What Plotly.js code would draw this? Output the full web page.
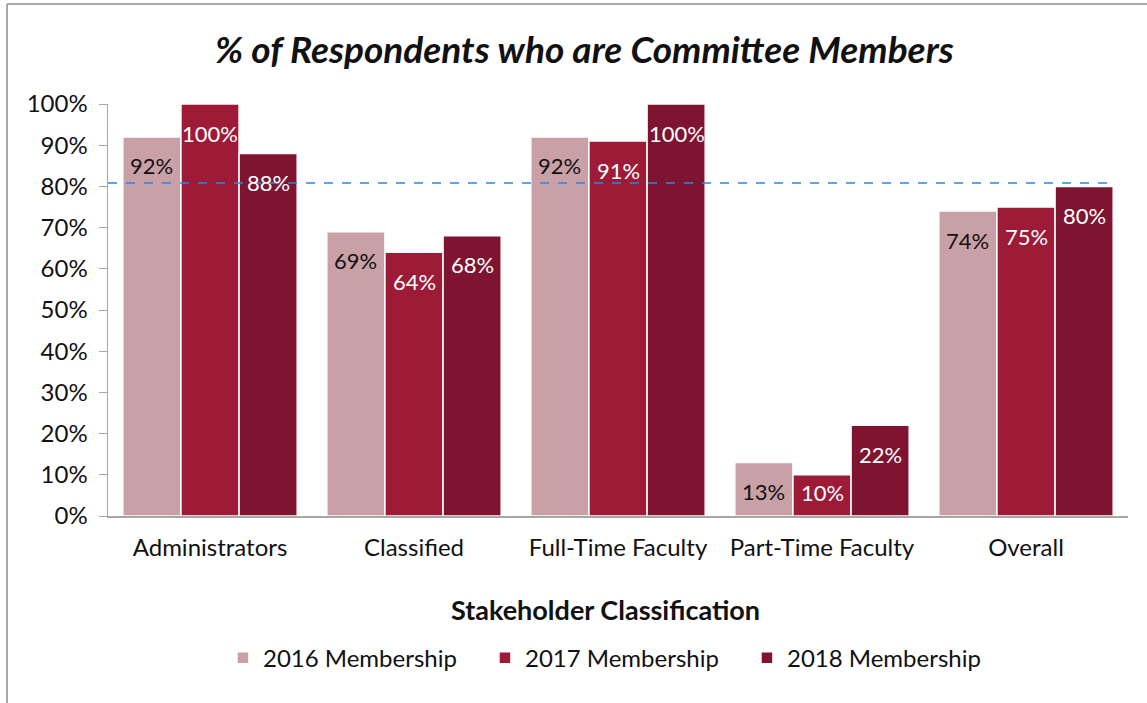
<!DOCTYPE html>
<html><head><meta charset="utf-8">
<script src="https://cdn.plot.ly/plotly-3.0.1.min.js"></script>
<style>html,body{margin:0;padding:0;background:#fff}#chart{width:1147px;height:703px}</style>
</head><body><div id="chart"></div>
<script>
const categories = ["Administrators", "Classified", "Full-Time Faculty", "Part-Time Faculty", "Overall"];
const seriesNames = ["2016 Membership", "2017 Membership", "2018 Membership"];
const values2016 = [92, 69, 92, 13, 74];
const values2017 = [100, 64, 91, 10, 75];
const values2018 = [88, 68, 100, 22, 80];
const benchmark = 80.8;
const yTicks = [0, 10, 20, 30, 40, 50, 60, 70, 80, 90, 100];

const colors = ["#C9A0A6", "#9E1B37", "#7E1430"];
const labelColors = ["#111111", "#ffffff", "#ffffff"];
const allValues = [values2016, values2017, values2018];
const FONT = "Lato, 'Open Sans', sans-serif";

const W = 1147, H = 703;
const M = {l: 108, r: 19, t: 104, b: 187};
const plotH = H - M.t - M.b;

const traces = allValues.map((vals, i) => ({
  type: "bar", name: seriesNames[i], x: categories, y: vals,
  marker: {color: colors[i], line: {color: "#ffffff", width: 1.5}},
  hoverinfo: "skip"
}));

const annotations = [];
allValues.forEach((vals, i) => {
  vals.forEach((v, j) => {
    const barPx = v / 100 * plotH;
    annotations.push({
      x: categories[j], y: v, xref: "x", yref: "y",
      text: v + "%", showarrow: false, xshift: (i - 1) * 58.5,
      yshift: -Math.min(29, barPx - 24),
      font: {family: FONT, size: 22, color: labelColors[i]}
    });
  });
});

annotations.push({
  text: "<b>Stakeholder Classification</b>", xref: "paper", yref: "paper",
  x: 0.488, y: -0.228, xanchor: "center", yanchor: "middle", showarrow: false,
  font: {family: FONT, size: 27, color: "#111"}
});

const layout = {
  width: W, height: H,
  margin: M,
  paper_bgcolor: "#ffffff", plot_bgcolor: "#ffffff",
  barmode: "group", bargap: 0.145, bargroupgap: 0,
  showlegend: true,
  title: {text: "<b><i>% of Respondents who are Committee Members</i></b>",
    font: {family: FONT, size: 37, color: "#111"},
    x: 0.467, xanchor: "center", y: 0.929, yanchor: "middle", xref: "paper", yref: "container"},
  xaxis: {
    showline: true, linecolor: "#a6a6a6", linewidth: 1.5, ticks: "", showgrid: false,
    tickfont: {family: FONT, size: 24, color: "#111"}, ticklabelstandoff: 10
  },
  yaxis: {
    range: [0, 100], tickvals: yTicks, ticktext: yTicks.map(t => t + "%"),
    showline: true, linecolor: "#a6a6a6", linewidth: 1.5, ticks: "outside", ticklen: 8, tickcolor: "#a6a6a6",
    showgrid: false, zeroline: false, ticklabelstandoff: 6,
    tickfont: {family: FONT, size: 24, color: "#111"}
  },
  legend: {orientation: "h", x: 0.498, xanchor: "center", y: -0.345, yanchor: "middle",
    font: {family: FONT, size: 24, color: "#111"}, itemwidth: 30, traceorder: "normal",
    entrywidth: 217, entrywidthmode: "pixels"},
  shapes: [
    {type: "line", xref: "paper", yref: "y", x0: 0, x1: 0.985, y0: benchmark, y1: benchmark,
      line: {color: "#3585D6", width: 1.5, dash: "dash"}},
    {type: "line", xref: "paper", yref: "paper", x0: -0.099, x1: -0.099, y0: 1.243, y1: -0.5,
      line: {color: "#8c8c8c", width: 1.5}},
    {type: "line", xref: "paper", yref: "paper", x0: -0.099, x1: 1.05, y0: 1.243, y1: 1.243,
      line: {color: "#8c8c8c", width: 1.5}}
  ],
  annotations: annotations
};

Plotly.newPlot("chart", traces, layout, {displayModeBar: false, staticPlot: true});
</script></body></html>
